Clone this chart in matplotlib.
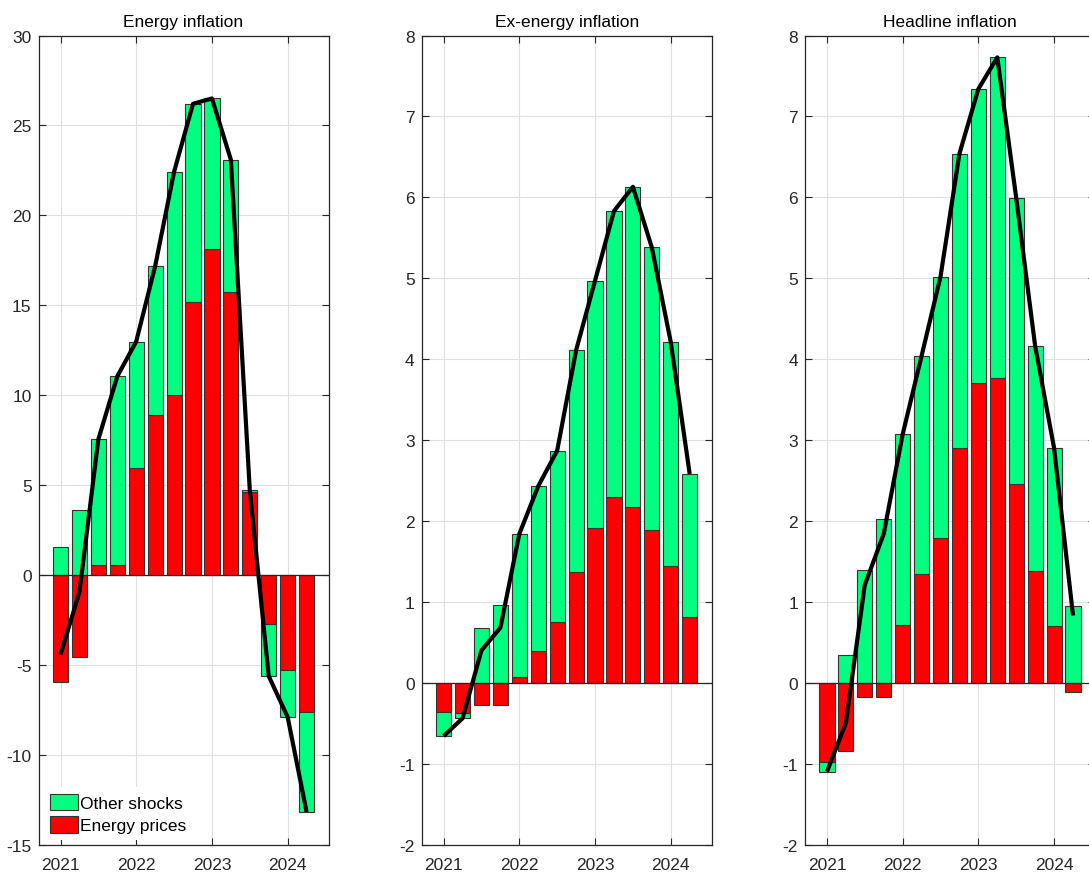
import matplotlib
matplotlib.use('Agg')
import matplotlib.pyplot as plt
import numpy as np

plt.rcParams['font.family'] = ['Liberation Sans', 'DejaVu Sans']
plt.rcParams['axes.unicode_minus'] = False

# Quarterly dates, 2021Q1 - 2024Q2
quarters = [2021.0, 2021.25, 2021.5, 2021.75,
            2022.0, 2022.25, 2022.5, 2022.75,
            2023.0, 2023.25, 2023.5, 2023.75,
            2024.0, 2024.25]
year_ticks = [2021, 2022, 2023, 2024]

# Contribution of energy price shocks
energy_energy = [-5.98, -4.59, 0.56, 0.56, 5.94, 8.87, 10.0, 15.17,
                 18.12, 15.74, 4.61, -2.73, -5.31, -7.63]
exenergy_energy = [-0.36, -0.37, -0.28, -0.28, 0.07, 0.39, 0.755, 1.37,
                   1.91, 2.29, 2.17, 1.89, 1.44, 0.81]
headline_energy = [-0.98, -0.84, -0.18, -0.18, 0.71, 1.34, 1.79, 2.90,
                   3.70, 3.77, 2.46, 1.38, 0.70, -0.12]

# Contribution of all other shocks
energy_other = [1.54, 3.63, 6.98, 10.48, 7.04, 8.30, 12.42, 11.03,
                8.38, 7.35, 0.09, -2.90, -2.60, -5.56]
exenergy_other = [-0.30, -0.07, 0.68, 0.96, 1.77, 2.04, 2.115, 2.74,
                  3.06, 3.54, 3.96, 3.49, 2.77, 1.77]
headline_other = [-0.12, 0.34, 1.39, 2.02, 2.36, 2.70, 3.23, 3.64,
                  3.64, 3.96, 3.53, 2.78, 2.20, 0.95]

titles = ['Energy inflation', 'Ex-energy inflation', 'Headline inflation']
ylims = [(-15, 30), (-2, 8), (-2, 8)]
ysteps = [5, 1, 1]

GREEN = '#00ff80'
RED = '#ff0000'
EDGE = '#333333'
AXCOL = '#262626'
FS = 12.5

fig = plt.figure(figsize=(10.89, 8.78), dpi=100)
lefts = [0.0354, 0.3872, 0.7392]
panels = [(energy_energy, energy_other),
          (exenergy_energy, exenergy_other),
          (headline_energy, headline_other)]

x = np.array(quarters)
for k, (red_vals, green_vals) in enumerate(panels):
    ax = fig.add_axes([lefts[k], 0.037, 0.2663, 0.9214])
    red_vals = np.array(red_vals)
    green_vals = np.array(green_vals)

    # stacked bars: positive parts pile up, negative parts pile down
    pos_base = np.zeros(len(x))
    neg_base = np.zeros(len(x))
    handles = []
    for vals, col in [(red_vals, RED), (green_vals, GREEN)]:
        base = np.where(vals >= 0, pos_base, neg_base)
        h = ax.bar(x, vals, width=0.2, bottom=base, color=col,
                   edgecolor=EDGE, linewidth=0.8, zorder=2)
        handles.append(h)
        pos_base = pos_base + np.where(vals >= 0, vals, 0)
        neg_base = neg_base + np.where(vals < 0, vals, 0)

    total = red_vals + green_vals
    ax.plot(x, total, color='black', lw=3.0, zorder=4, solid_capstyle='butt')
    ax.axhline(0, color=AXCOL, lw=0.9, zorder=3)

    ax.set_xlim(2020.71, 2024.54)
    ax.set_ylim(*ylims[k])
    ax.set_xticks(year_ticks)
    ax.set_yticks(np.arange(ylims[k][0], ylims[k][1] + 0.01, ysteps[k]))
    ax.grid(True, color='#e0e0e0', lw=0.8, zorder=0)
    ax.set_axisbelow(True)
    ax.tick_params(direction='in', length=5, width=0.8, color=AXCOL,
                   labelcolor=AXCOL, labelsize=FS, top=True, right=True)
    ax.tick_params(axis='x', pad=9)
    ax.tick_params(axis='y', pad=5)
    for sp in ax.spines.values():
        sp.set_color(AXCOL)
        sp.set_linewidth(0.9)
    ax.set_title(titles[k], fontsize=FS, color='black', pad=7)

    if k == 0:
        leg = ax.legend([handles[1], handles[0]], ['Other shocks', 'Energy prices'],
                        loc='lower left', fontsize=FS, frameon=True,
                        fancybox=False, borderaxespad=0.25, borderpad=0.4,
                        handlelength=1.6, handleheight=1.1, handletextpad=0.15,
                        labelspacing=0.3)
        leg.get_frame().set_facecolor('white')
        leg.get_frame().set_edgecolor('none')
        leg.get_frame().set_alpha(1)
        leg.set_zorder(5)

fig.savefig('out.png', dpi=100)
